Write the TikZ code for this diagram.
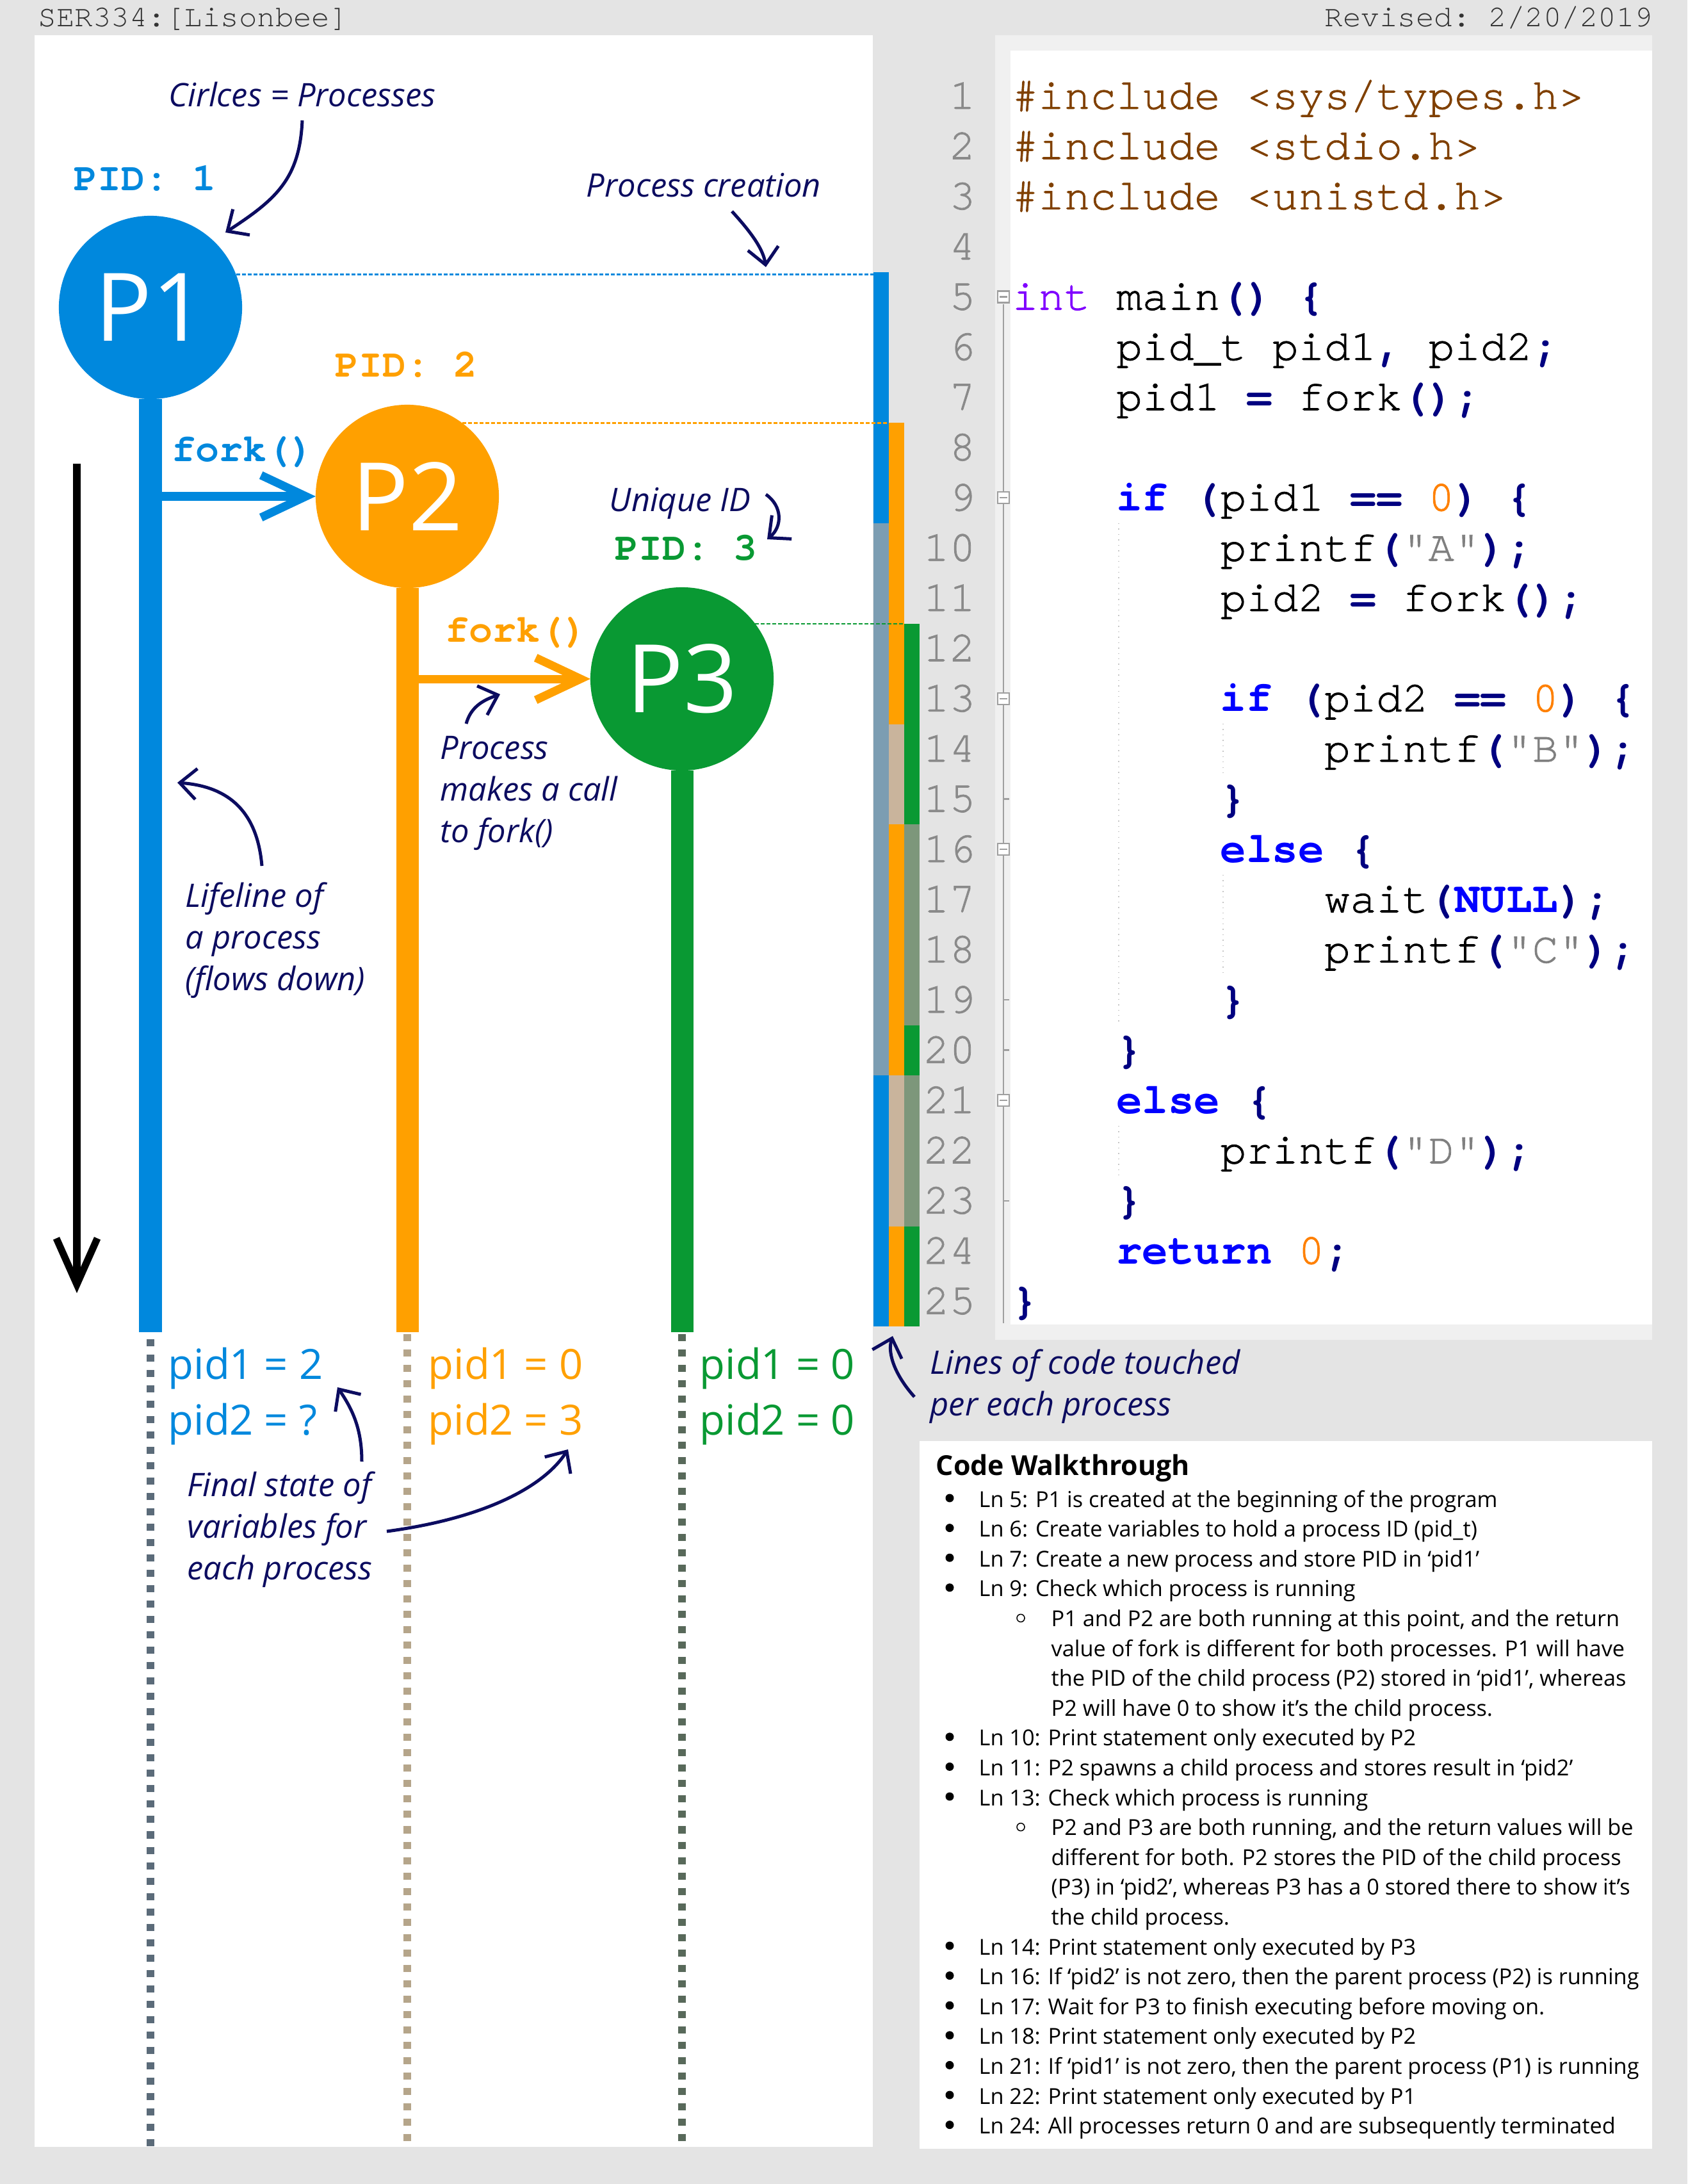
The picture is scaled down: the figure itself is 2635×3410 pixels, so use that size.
\documentclass[tikz,border=0pt]{standalone}
\usepackage{fontspec}
\setmainfont{Open Sans}
\setmonofont{texgyrecursor-regular.otf}[BoldFont=texgyrecursor-bold.otf]
\newfontfamily\codefont{texgyrecursor-regular.otf}[BoldFont=texgyrecursor-bold.otf,
  UprightFeatures={FakeBold=1.2}]
\usepackage{xcolor}
\usetikzlibrary{arrows.meta}

\definecolor{bggray}{HTML}{E4E4E4}
\definecolor{gutter}{HTML}{F0F0F0}
\definecolor{pblue}{HTML}{0088DD}
\definecolor{porange}{HTML}{FFA000}
\definecolor{pgreen}{HTML}{099933}
\definecolor{pnavy}{HTML}{0C0C60}
\definecolor{offblue}{HTML}{7C9DB2}
\definecolor{offorange}{HTML}{C9B49C}
\definecolor{offgreen}{HTML}{7D977B}
\definecolor{dblue}{HTML}{5B6B79}
\definecolor{dorange}{HTML}{B5A58A}
\definecolor{dgreen}{HTML}{58695A}
\definecolor{codepp}{HTML}{804000}
\definecolor{codety}{HTML}{8000FF}
\definecolor{codeop}{HTML}{000080}
\definecolor{codekw}{HTML}{0000FF}
\definecolor{codenum}{HTML}{FF8000}
\definecolor{codestr}{HTML}{808080}
\definecolor{lnumgray}{HTML}{8A8A8A}

% code colouring (Notepad++ look)
\newcommand{\cpp}[1]{\textcolor{codepp}{#1}}
\newcommand{\cty}[1]{\textcolor{codety}{#1}}
\newcommand{\cop}[1]{\textcolor{codeop}{\bfseries #1}}
\newcommand{\ckw}[1]{\textcolor{codekw}{\bfseries #1}}
\newcommand{\cnum}[1]{\textcolor{codenum}{#1}}
\newcommand{\cstr}[1]{\textcolor{codestr}{#1}}

\tikzset{
  procnode/.style={circle, fill=#1, minimum size=2.86cm, inner sep=0pt,
    outer sep=0pt, text=white, font=\fontsize{42}{42}\selectfont},
  lifeline/.style={line width=0.35cm},
  lifetail/.style={line width=0.12cm, dash pattern=on 0.11cm off 0.13cm},
  spawnline/.style={line width=0.025cm, dash pattern=on 0.06cm off 0.03cm},
  forkarrow/.style={line width=0.13cm,
    -{Straight Barb[length=0.7cm, width=0.66cm, sharp]}},
  notetext/.style={text=pnavy, inner sep=0pt, align=left,
    font=\fontsize{14.4}{18.5}\selectfont\itshape},
  notearrow/.style={pnavy, line width=0.05cm,
    -{Straight Barb[length=0.26cm, width=0.48cm]}},
  pidtext/.style={inner sep=0pt, anchor=base west,
    font=\fontsize{17.5}{20}\selectfont\ttfamily\bfseries},
  varstate/.style={inner sep=0pt, anchor=base west,
    font=\fontsize{18.5}{22}\selectfont},
  codeline/.style={inner sep=0pt, anchor=base west,
    font=\fontsize{19.25}{23}\selectfont\codefont},
  lnnum/.style={inner sep=0pt, anchor=base east, text=lnumgray,
    font=\fontsize{19.25}{23}\selectfont\codefont},
  walktext/.style={inner sep=0pt, anchor=base west,
    font=\fontsize{9.75}{12}\selectfont},
  headtext/.style={inner sep=0pt, text=black!80,
    font=\fontsize{13.5}{16}\selectfont\ttfamily},
}

\begin{document}
\begin{tikzpicture}[x=0.01cm, y=-0.01cm]
  \useasboundingbox (0,0) rectangle (2635,3410);
  \fill[bggray] (0,0) rectangle (2635,3410);
  % panels
  \fill[white] (54,55) rectangle (1363,3352);
  \fill[gutter] (1554,55) rectangle (2580,2092);
  \fill[white] (1578,79) rectangle (2580,2068);
  \fill[white] (1436,2250) rectangle (2580,3355);
  % header
  \node[headtext, anchor=base west] (course) at (59,42) {SER334:[Lisonbee]};
  \node[headtext, anchor=base east] (revised) at (2582,42) {Revised: 2/20/2019};

  % ---- code listing ----
  \foreach \n in {1,...,25}
    \node[lnnum] (lnum\n) at (1524,{170+(\n-1)*78.4}) {\n};
  \foreach \n/\c/\t in {
      {1/0/{\cpp{\#include <sys/types.h>}}},
      {2/0/{\cpp{\#include <stdio.h>}}},
      {3/0/{\cpp{\#include <unistd.h>}}},
      {5/0/{\cty{int} main\cop{()} \cop{\{}}},
      {6/4/{pid\_t pid1\cop{,} pid2\cop{;}}},
      {7/4/{pid1 \cop{=} fork\cop{()}\cop{;}}},
      {9/4/{\ckw{if} \cop{(}pid1 \cop{==} \cnum{0}\cop{)} \cop{\{}}},
      {10/8/{printf\cop{(}\cstr{"A"}\cop{)}\cop{;}}},
      {11/8/{pid2 \cop{=} fork\cop{()}\cop{;}}},
      {13/8/{\ckw{if} \cop{(}pid2 \cop{==} \cnum{0}\cop{)} \cop{\{}}},
      {14/12/{printf\cop{(}\cstr{"B"}\cop{)}\cop{;}}},
      {15/8/{\cop{\}}}},
      {16/8/{\ckw{else} \cop{\{}}},
      {17/12/{wait\cop{(}\ckw{NULL}\cop{)}\cop{;}}},
      {18/12/{printf\cop{(}\cstr{"C"}\cop{)}\cop{;}}},
      {19/8/{\cop{\}}}},
      {20/4/{\cop{\}}}},
      {21/4/{\ckw{else} \cop{\{}}},
      {22/8/{printf\cop{(}\cstr{"D"}\cop{)}\cop{;}}},
      {23/4/{\cop{\}}}},
      {24/4/{\ckw{return} \cnum{0}\cop{;}}},
      {25/0/{\cop{\}}}}}
    \node[codeline] (code\n) at ({1580+\c*40.6},{170+(\n-1)*78.4}) {\t};
  % fold margin
  \draw[gray!75, line width=0.025cm] (1567,475) -- (1567,2066);
  \foreach \n in {15,19,20,23}
    \draw[gray!75, line width=0.025cm] (1567,{150+(\n-1)*78.4}) -- ++(9,0);
  \foreach \n in {5,9,13,16,21} {
    \draw[gray!75, fill=white, line width=0.025cm]
      (1558,{141+(\n-1)*78.4}) rectangle (1576,{159+(\n-1)*78.4});
    \draw[gray!75, line width=0.025cm]
      (1561,{150+(\n-1)*78.4}) -- (1573,{150+(\n-1)*78.4});
  }
  % indent guides
  \draw[gray!45, dotted] (1747,817) -- (1747,1601);
  \draw[gray!45, dotted] (1747,1758) -- (1747,1836);
  \draw[gray!45, dotted] (1910,1130) -- (1910,1209);
  \draw[gray!45, dotted] (1910,1366) -- (1910,1522);
  % lines touched per process
  \foreach \x/\a/\b/\clr in {1364/5/9/pblue, 1364/10/20/offblue,
      1364/21/25/pblue, 1388/8/13/porange, 1388/14/15/offorange,
      1388/16/20/porange, 1388/21/23/offorange, 1388/24/25/porange,
      1412/12/15/pgreen, 1412/16/19/offgreen, 1412/20/20/pgreen,
      1412/21/23/offgreen, 1412/24/25/pgreen}
    \fill[\clr] (\x,{111.4+(\a-1)*78.4}) rectangle ({\x+24},{111.4+\b*78.4});
  \coordinate (bar1) at (1364,428);
  \coordinate (bar2) at (1388,660);
  \coordinate (bar3) at (1412,974);

  % ---- processes ----
  \coordinate (lifeend) at (0,2080);
  \node[procnode=pblue] (P1) at (235,480) {P1};
  \node[procnode=porange] (P2) at (636,775) {P2};
  \node[procnode=pgreen] (P3) at (1065,1060) {P3};
  \draw[lifeline, pblue] (P1.south) -- (P1.south |- lifeend);
  \draw[lifeline, porange] (P2.south) -- (P2.south |- lifeend);
  \draw[lifeline, pgreen] (P3.south) -- (P3.south |- lifeend);
  \draw[lifetail, dblue] (235,2091) -- (235,3352);
  \draw[lifetail, dorange] (636,2083) -- (636,3352);
  \draw[lifetail, dgreen] (1065,2083) -- (1065,3352);
  \draw[spawnline, pblue] (P1.21) -- (P1.21 -| bar1);
  \draw[spawnline, porange] (P2.53.5) -- (P2.53.5 -| bar2);
  \draw[spawnline, pgreen] (P3.37) -- (P3.37 -| bar3);
  \coordinate (fork1) at (252,775);
  \coordinate (fork2) at (654,1060);
  \draw[forkarrow, pblue] (fork1) -- (P2.west);
  \draw[forkarrow, porange] (fork2) -- (P3.west);
  \node[pidtext, text=pblue] (pid1) at (115,298) {PID: 1};
  \node[pidtext, text=porange] (pid2) at (523,589) {PID: 2};
  \node[pidtext, text=pgreen] (pid3) at (960,874) {PID: 3};
  \node[pidtext, text=pblue] (fork1lbl) at (268,721) {fork()};
  \node[pidtext, text=porange] (fork2lbl) at (695,1002) {fork()};
  % time flows down
  \draw[black, line width=0.11cm,
    -{Straight Barb[length=0.72cm, width=0.64cm, sharp]}] (120,724) -- (120,2019);

  % final values
  \node[varstate, text=pblue] (v1a) at (262,2153) {pid1 = 2};
  \node[varstate, text=pblue] (v1b) at (262,2240) {pid2 = ?};
  \node[varstate, text=porange] (v2a) at (668,2153) {pid1 = 0};
  \node[varstate, text=porange] (v2b) at (668,2240) {pid2 = 3};
  \node[varstate, text=pgreen] (v3a) at (1092,2153) {pid1 = 0};
  \node[varstate, text=pgreen] (v3b) at (1092,2240) {pid2 = 0};

  % ---- annotations ----
  \node[notetext, anchor=base] (ncircles) at (472,167) {Cirlces = Processes};
  \node[notetext, anchor=base] (ncreate) at (1099,308) {Process creation};
  \node[notetext, anchor=base] (nunique) at (1062,798) {Unique ID};
  \node[notetext, anchor=north west] (ncall) at (687,1149) {Process\\makes a call\\to fork()};
  \node[notetext, anchor=north west] (nlife) at (289,1377) {Lifeline of\\a process\\(flows down)};
  \node[notetext, anchor=north west] (nfinal) at (292,2297) {Final state of\\variables for\\each process};
  \node[notetext, anchor=north west] (ntouch) at (1452,2106) {Lines of code touched\\per each process};
  \draw[notearrow] (472,188) .. controls (468,280) and (430,312) .. (352,363);
  \draw[notearrow] (1143,330) .. controls (1175,365) and (1192,390) .. (1196,417);
  \draw[notearrow] (1196,772) .. controls (1222,790) and (1222,822) .. (1198,842);
  \draw[notearrow] (728,1130) .. controls (735,1105) and (752,1094) .. (781,1084);
  \draw[notearrow] (409,1352) .. controls (402,1270) and (360,1228) .. (277,1222);
  \draw[notearrow] (565,2282) .. controls (565,2230) and (550,2200) .. (527,2166);
  \draw[notearrow] (604,2391) .. controls (760,2370) and (850,2320) .. (887,2263);
  \draw[notearrow] (1428,2181) .. controls (1400,2150) and (1385,2115) .. (1394,2086);

  % ---- code walkthrough ----
  \node[inner sep=0pt, anchor=base west, font=\fontsize{12.2}{15}\selectfont\bfseries]
    (walktitle) at (1461,2303) {Code Walkthrough};
  \foreach \i/\t in {
      0/{Ln 5: P1 is created at the beginning of the program},
      1/{Ln 6: Create variables to hold a process ID (pid\_t)},
      2/{Ln 7: Create a new process and store PID in ‘pid1’},
      3/{Ln 9: Check which process is running},
      8/{Ln 10: Print statement only executed by P2},
      9/{Ln 11: P2 spawns a child process and stores result in ‘pid2’},
      10/{Ln 13: Check which process is running},
      15/{Ln 14: Print statement only executed by P3},
      16/{Ln 16: If ‘pid2’ is not zero, then the parent process (P2) is running},
      17/{Ln 17: Wait for P3 to finish executing before moving on.},
      18/{Ln 18: Print statement only executed by P2},
      19/{Ln 21: If ‘pid1’ is not zero, then the parent process (P1) is running},
      20/{Ln 22: Print statement only executed by P1},
      21/{Ln 24: All processes return 0 and are subsequently terminated}} {
    \fill (1483,{2339+\i*46.6}) circle (0.065cm);
    \node[walktext] (walk\i) at (1528,{2353+\i*46.6}) {\t};
  }
  \foreach \i/\t in {
      4/{P1 and P2 are both running at this point, and the return},
      5/{value of fork is different for both processes. P1 will have},
      6/{the PID of the child process (P2) stored in ‘pid1’, whereas},
      7/{P2 will have 0 to show it’s the child process.},
      11/{P2 and P3 are both running, and the return values will be},
      12/{different for both. P2 stores the PID of the child process},
      13/{(P3) in ‘pid2’, whereas P3 has a 0 stored there to show it’s},
      14/{the child process.}}
    \node[walktext] (walk\i) at (1641,{2353+\i*46.6}) {\t};
  \foreach \i in {4,11}
    \draw[line width=0.015cm] (1594,{2340+\i*46.6}) circle (0.06cm);
\end{tikzpicture}
\end{document}
